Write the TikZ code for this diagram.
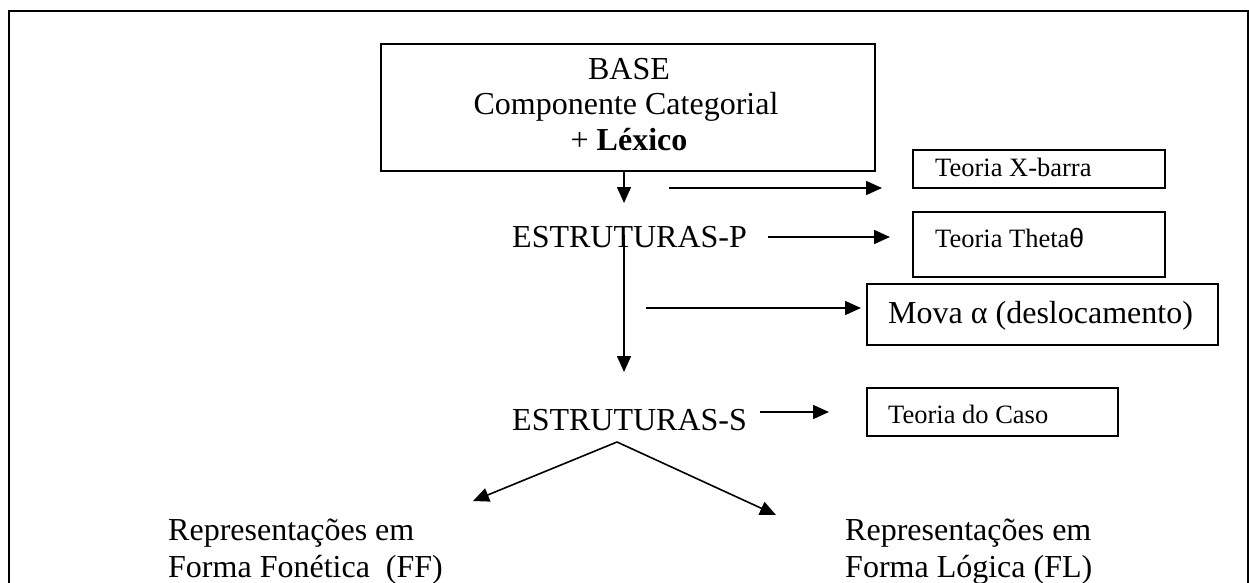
\documentclass[tikz,border=0pt]{standalone}
\usepackage{fontspec}
\setmainfont{Liberation Serif}
\newfontfamily\thetafont{Liberation Sans}
\usetikzlibrary{arrows.meta}
\begin{document}
\begin{tikzpicture}[x=1pt,y=-1pt,
  boxst/.style={draw,line width=1.7pt,inner sep=0pt},
  bigtxt/.style={inner sep=0pt,font=\fontsize{32}{35}\selectfont},
  smalltxt/.style={inner sep=0pt,font=\fontsize{26.5}{30}\selectfont},
  arr/.style={line width=1.6pt,-{Triangle[length=16pt,width=14pt]}}]
\useasboundingbox (0,0) rectangle (1249,583);
% outer frame
\draw[line width=2.5pt] (9,585) -- (9,11) -- (1248,11) -- (1248,585);
% boxes
\node[boxst,minimum width=494pt,minimum height=127pt] (basebox) at (628,107.5) {};
\node[boxst,minimum width=252pt,minimum height=38pt] (xbox) at (1039,169) {};
\node[boxst,minimum width=252pt,minimum height=65pt] (thbox) at (1039,244.5) {};
\node[boxst,minimum width=351pt,minimum height=61pt] (movabox) at (1042.5,314.5) {};
\node[boxst,minimum width=251pt,minimum height=48pt] (casobox) at (992.5,412) {};
% texts
\node[bigtxt,anchor=base] (l1) at (629,80) {BASE};
\node[bigtxt,anchor=base] (l2) at (626,115) {Componente Categorial};
\node[bigtxt,anchor=base] (l3) at (629,150) {+ \textbf{Léxico}};
\node[smalltxt,anchor=base west] (xtext) at (935,176) {Teoria X-barra};
\node[smalltxt,anchor=base west] (thtext) at (935,247) {Teoria Theta{\thetafont θ}};
\node[bigtxt,anchor=base west] (movatext) at (888,323) {Mova α (deslocamento)};
\node[smalltxt,anchor=base west] (casotext) at (888,423) {Teoria do Caso};
\node[bigtxt,anchor=base west] (estP) at (512,247) {ESTRUTURAS-P};
\node[bigtxt,anchor=base west] (estS) at (512,430) {ESTRUTURAS-S};
\node[bigtxt,anchor=base west] (ff1) at (168,540) {Representações em};
\node[bigtxt,anchor=base west] (ff2) at (168,577) {Forma Fonética\ \ (FF)};
\node[bigtxt,anchor=base west] (fl1) at (845,540) {Representações em};
\node[bigtxt,anchor=base west] (fl2) at (845,577) {Forma Lógica (FL)};
% connector coordinates
\coordinate (a1s) at ([xshift=-4pt]basebox.south);
\coordinate (a1e) at (624,203);
\coordinate (a2s) at (669,188);
\coordinate (a2e) at (882,188);
\coordinate (a3s) at (768,237);
\coordinate (a3e) at (890,237);
\coordinate (a4s) at (624,235);
\coordinate (a4e) at (624,372);
\coordinate (a5s) at (646,308);
\coordinate (a5e) at (861,308);
\coordinate (a6s) at (760,412);
\coordinate (a6e) at (829,412);
\coordinate (split) at (617,442);
\coordinate (a7e) at (473,501);
\coordinate (a8e) at (776,515);
% connectors
\draw[arr] (a1s) -- (a1e);
\draw[arr] (a2s) -- (a2e);
\draw[arr] (a3s) -- (a3e);
\draw[arr] (a4s) -- (a4e);
\draw[arr] (a5s) -- (a5e);
\draw[arr] (a6s) -- (a6e);
\draw[arr] (split) -- (a7e);
\draw[arr] (split) -- (a8e);
\end{tikzpicture}
\end{document}
